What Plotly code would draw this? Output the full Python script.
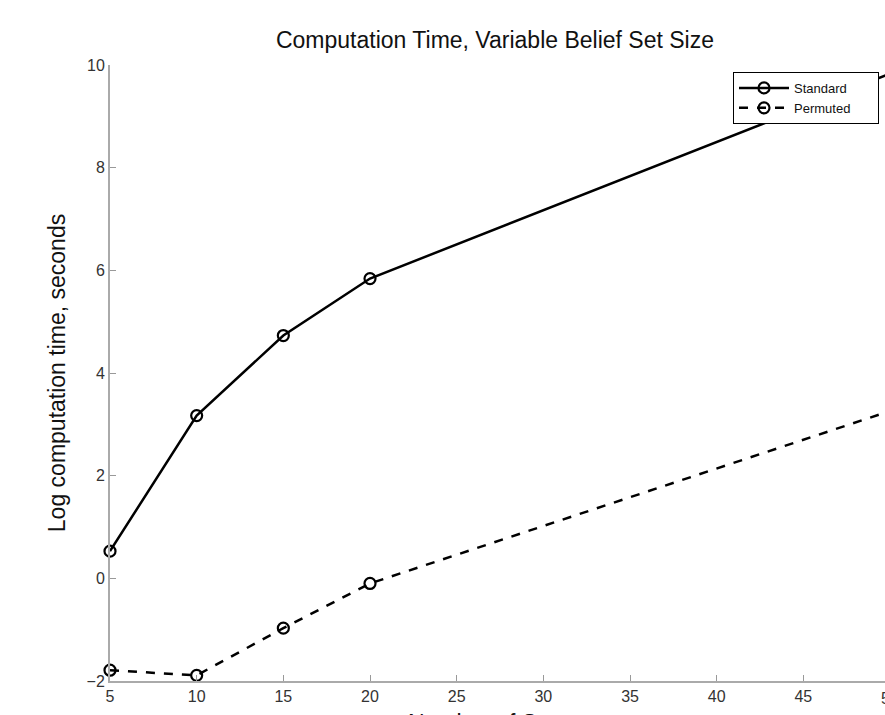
import plotly.graph_objects as go

states = [5, 10, 15, 20, 50]
standard = [0.53, 3.17, 4.73, 5.84, 9.83]
permuted = [-1.79, -1.89, -0.97, -0.10, 3.26]
x_ticks = [5, 10, 15, 20, 25, 30, 35, 40, 45, 50]
y_ticks = [-2, 0, 2, 4, 6, 8, 10]

pad = "\u00a0" * 6
fig = go.Figure()
fig.add_trace(go.Scatter(
    x=states, y=standard, name="Standard" + pad, mode="lines+markers", cliponaxis=False,
    line=dict(color="black", width=2.5),
    marker=dict(symbol="circle-open", size=11, color="black", line=dict(width=2.2)),
))
fig.add_trace(go.Scatter(
    x=states, y=permuted, name="Permuted" + pad, mode="lines+markers", cliponaxis=False,
    line=dict(color="black", width=2.5, dash="dash"),
    marker=dict(symbol="circle-open", size=11, color="black", line=dict(width=2.2)),
))

fig.update_layout(
    width=885, height=715,
    margin=dict(l=110, r=0, t=65, b=34),
    paper_bgcolor="white", plot_bgcolor="white",
    font=dict(family="Liberation Sans, Arial, sans-serif", color="#222"),
    title=dict(text="Computation Time, Variable Belief Set Size", x=495 / 885, xanchor="center",
               y=1 - 40 / 715, yanchor="middle", font=dict(size=23, color="#111")),
    showlegend=True,
    legend=dict(x=(733 - 110) / 775, y=(681 - 72) / 616, xanchor="left", yanchor="top",
                bgcolor="white", bordercolor="black", borderwidth=1,
                font=dict(size=13, color="#111"), tracegroupgap=0,
                itemwidth=50),
)
fig.update_xaxes(
    range=[5, 49.71], tickvals=x_ticks, ticks="inside", ticklen=6, tickcolor="#999",
    showline=True, linecolor="#aaa", linewidth=2, showgrid=False, zeroline=False,
    tickfont=dict(size=16, color="#333"),
    automargin=False,
)
fig.update_yaxes(
    range=[-2, 10], tickvals=y_ticks, ticks="inside", ticklen=6, tickcolor="#999",
    showline=True, linecolor="#aaa", linewidth=2, showgrid=False, zeroline=False,
    tickfont=dict(size=16, color="#333"),
    title=dict(text="Log computation time, seconds", font=dict(size=23, color="#111"), standoff=14),
    automargin=False,
)
fig.add_annotation(text="50", xref="paper", yref="paper", x=(890 - 110) / 775, y=0,
                   yshift=-17, showarrow=False, font=dict(size=16, color="#333"),
                   xanchor="center", yanchor="middle")
fig.add_annotation(text="Number of States", xref="paper", yref="paper", x=(497 - 110) / 775, y=0,
                   yshift=-42, showarrow=False, font=dict(size=23, color="#111"),
                   xanchor="center", yanchor="middle")

fig.write_html("out.html")
